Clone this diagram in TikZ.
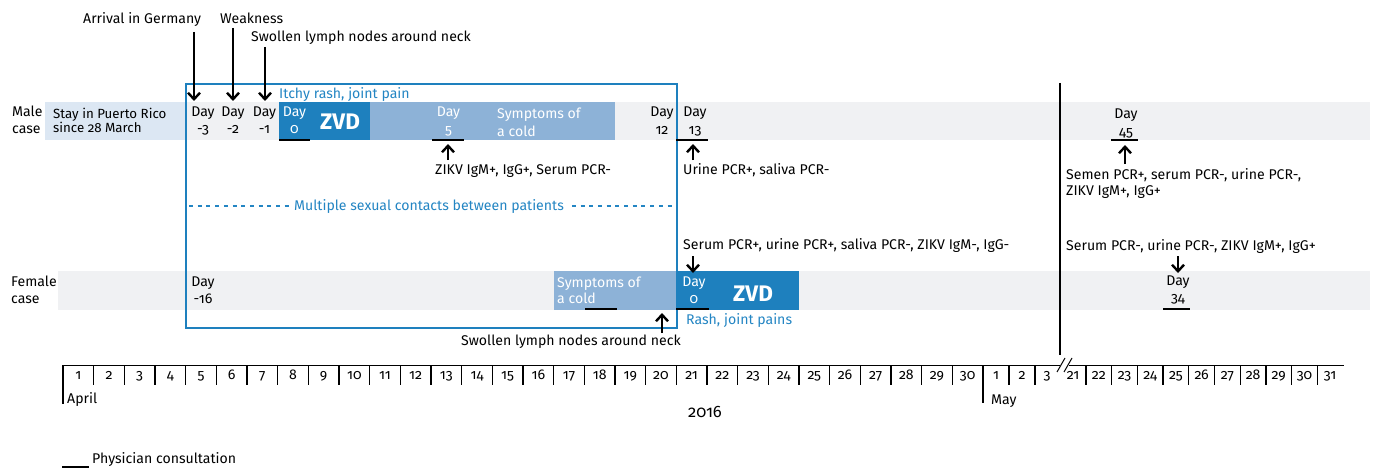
\documentclass[tikz,border=0pt]{standalone}
\usepackage{fontspec}
\setmainfont{Fira Sans}[Numbers=OldStyle]
\usetikzlibrary{arrows.meta}
\definecolor{zdark}{RGB}{30,128,190}
\definecolor{zlight}{RGB}{141,178,215}
\definecolor{zpale}{RGB}{220,231,243}
\definecolor{zgray}{RGB}{240,241,243}
\definecolor{ztext}{RGB}{35,133,195}
\tikzset{
  txt/.style={inner sep=0pt, font=\fontsize{14.1}{16}\selectfont, text=black},
  wtxt/.style={txt, text=white},
  btxt/.style={txt, text=ztext},
  zvd/.style={inner sep=0pt, font=\fontsize{22.5}{24}\selectfont\bfseries, text=white},
  arr/.style={line width=2.4pt, -{Straight Barb[length=6.5pt,width=12pt]}},
  consult/.style={line width=2.7pt, black},
  frame/.style={draw=zdark, line width=2pt},
  axisline/.style={line width=1pt, black},
  tick/.style={line width=1.3pt, black},
}
\newcommand\daymark[6]{% name, x, y1, y2, number, style
  \node[#6, anchor=base] (#1) at (#2,#3) {Day};
  \node[#6, anchor=base] (#1n) at (#2,#4) {#5};}
\begin{document}
\begin{tikzpicture}[x=1pt,y=-1pt]
\useasboundingbox (0,0) rectangle (1375,468);
% bands
\fill[zgray] (186,102) rectangle (1370,140);
\fill[zpale] (45,102) rectangle (186,140);
\fill[zdark] (279,102) rectangle (370,140);
\fill[zlight] (370,102) rectangle (615,140);
\fill[zgray] (58,271) rectangle (1370,310);
\fill[zlight] (554,271) rectangle (676,310);
\fill[zdark] (676,271) rectangle (799,310);
% frame
\draw[frame] (186,84) rectangle (677,328);
% row labels
\node[txt, anchor=base west] (male1) at (12,117) {Male};
\node[txt, anchor=base west] (male2) at (12,134) {case};
\node[txt, anchor=base west] (fem1) at (11,286) {Female};
\node[txt, anchor=base west] (fem2) at (11,303) {case};
\node[txt, anchor=base west, font=\fontsize{13.3}{14}\selectfont] (pr1) at (53,118) {Stay in Puerto Rico};
\node[txt, anchor=base west, font=\fontsize{13.3}{14}\selectfont] (pr2) at (53,132) {since 28 March};
% male days
\daymark{dm3}{203}{117}{134}{-3}{txt}
\daymark{dm2}{233}{117}{134}{-2}{txt}
\daymark{dm1}{264.5}{117}{134}{-1}{txt}
\daymark{d0}{294.5}{117}{133}{0}{wtxt}
\daymark{d5}{448.5}{117}{135}{5}{wtxt}
\daymark{d12}{662}{117}{135}{12}{txt}
\daymark{d13}{695}{117}{135}{13}{txt}
\daymark{d45}{1126}{118}{136}{45}{txt}
\node[zvd, anchor=base west] (zvdm) at (320,129) {ZVD};
\node[wtxt, anchor=base west] (symm1) at (497,119) {Symptoms of};
\node[wtxt, anchor=base west] (symm2) at (497,136) {a cold};
\node[btxt, anchor=base west] (itchy) at (279,99) {Itchy rash, joint pain};
% female days
\daymark{f16}{203}{286}{303}{-16}{txt}
\daymark{f0}{694}{286}{303}{0}{wtxt}
\daymark{f34}{1178}{285}{302}{34}{txt}
\node[zvd, anchor=base west] (zvdf) at (733,301) {ZVD};
\node[wtxt, anchor=base west] (symf1) at (557,287) {Symptoms of};
\node[wtxt, anchor=base west] (symf2) at (557,303) {a cold};
\node[btxt, anchor=base west] (rash) at (686,324) {Rash, joint pains};
% consultations
\draw[consult] (279,140) -- (310,140);
\draw[consult] (432,140) -- (464,140);
\draw[consult] (676,140) -- (708,140);
\draw[consult] (1111,140) -- (1138,140);
\draw[consult] (585,309) -- (617,309);
\draw[consult] (676,309) -- (709,309);
\draw[consult] (1163,309) -- (1190,309);
% top events
\node[txt, anchor=base west] (arrival) at (83,24) {Arrival in Germany};
\node[txt, anchor=base west] (weak) at (220,24) {Weakness};
\node[txt, anchor=base west] (swolm) at (251,42) {Swollen lymph nodes around neck};
\coordinate (arrT) at (194,32); \coordinate (arrH) at (194,101);
\coordinate (weakT) at (233,28); \coordinate (weakH) at (233,101);
\coordinate (swoT) at (265,47); \coordinate (swoH) at (265,101);
\draw[arr] (arrT) -- (arrH);
\draw[arr] (weakT) -- (weakH);
\draw[arr] (swoT) -- (swoH);
% male test results
\node[txt, anchor=base west] (res5) at (435,174) {ZIKV IgM+, IgG+, Serum PCR-};
\node[txt, anchor=base west] (res13) at (683,174) {Urine PCR+, saliva PCR-};
\node[txt, anchor=base west] (res45a) at (1066,179) {Semen PCR+, serum PCR-, urine PCR-,};
\node[txt, anchor=base west] (res45b) at (1066,195) {ZIKV IgM+, IgG+};
\coordinate (r5T) at (448,160); \coordinate (r5H) at (448,144);
\coordinate (r13T) at (693,160); \coordinate (r13H) at (693,144);
\coordinate (r45T) at (1125,164); \coordinate (r45H) at (1125,145);
\draw[arr] (r5T) -- (r5H);
\draw[arr] (r13T) -- (r13H);
\draw[arr] (r45T) -- (r45H);
% contacts
\draw[ztext, line width=1.5pt, dash pattern=on 4pt off 4.7pt] (189,206) -- (673,206);
\node[btxt, fill=white, inner xsep=4pt, inner ysep=3pt, anchor=base] (contacts) at (429,210) {Multiple sexual contacts between patients};
% female test results
\node[txt, anchor=base west] (resf0) at (683,249) {Serum PCR+, urine PCR+, saliva PCR-, ZIKV IgM-, IgG-};
\node[txt, anchor=base west] (resf34) at (1066,250) {Serum PCR-, urine PCR-, ZIKV IgM+, IgG+};
\coordinate (rf0T) at (693,256); \coordinate (rf0H) at (693,273);
\coordinate (rf34T) at (1178,256); \coordinate (rf34H) at (1178,273);
\draw[arr] (rf0T) -- (rf0H);
\draw[arr] (rf34T) -- (rf34H);
\node[txt, anchor=base east] (swolf) at (681,345) {Swollen lymph nodes around neck};
\coordinate (swfT) at (662,333); \coordinate (swfH) at (662,313);
\draw[arr] (swfT) -- (swfH);
% break line
\coordinate (brkT) at (1060,83); \coordinate (brkB) at (1060,355);
\draw[line width=1.2pt] (brkT) -- (brkB);
% axis
\draw[axisline] (63,365) -- (1060,365);
\draw[axisline] (1069,365) -- (1344,365);
\draw[line width=1pt] (1057,372) -- (1065,358);
\draw[line width=1pt] (1064,372) -- (1072,358);
\draw[tick] (63,365) -- (63,404);
\draw[tick] (983,365) -- (983,403);
\foreach \i in {1,...,29} { \draw[tick] ({63+\i*30.667},365) -- ({63+\i*30.667},385); }
\foreach \d in {1,...,30} { \node[txt, anchor=base] (ap\d) at ({63+(\d-0.5)*30.667},379) {\d}; }
\draw[tick] (1009,365) -- (1009,385);
\draw[tick] (1035,365) -- (1035,385);
\node[txt, anchor=base] (my1) at (996,379) {1};
\node[txt, anchor=base] (my2) at (1022,379) {2};
\node[txt, anchor=base] (my3) at (1047,379) {3};
\foreach \i in {0,...,9} { \draw[tick] ({1086+\i*25.7},365) -- ({1086+\i*25.7},385); }
\foreach \d in {21,...,31} { \node[txt, anchor=base] (my\d) at ({1060.3+(\d-20.5)*25.7},379) {\d}; }
\node[txt, anchor=base west] (april) at (67,403) {April};
\node[txt, anchor=base west] (may) at (991,404) {May};
\node[txt, anchor=base, font=\fontsize{16.5}{18}\selectfont] (year) at (705,417) {2016};
% legend
\coordinate (legA) at (62,467); \coordinate (legB) at (89,467);
\draw[line width=1.2pt] (legA) -- (legB);
\node[txt, anchor=base west] (legend) at (92,463) {Physician consultation};
\end{tikzpicture}
\end{document}
